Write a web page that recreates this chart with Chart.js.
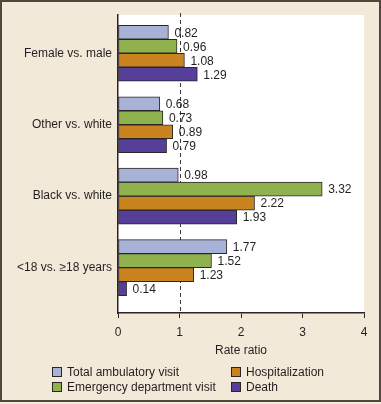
<!DOCTYPE html>
<html>
<head>
<meta charset="utf-8">
<script src="https://cdn.jsdelivr.net/npm/chart.js@4/dist/chart.umd.min.js"></script>
<style>
  html, body { margin: 0; padding: 0; background: #f3e9d9; }
  #wrap { width: 381px; height: 404px; position: relative; }
</style>
</head>
<body>
<div id="wrap"><canvas id="c" width="381" height="404"></canvas></div>
<script>
// ---- data ----
const categories = ['Female vs. male', 'Other vs. white', 'Black vs. white', '<18 vs. \u226518 years'];
const seriesNames = ['Total ambulatory visit', 'Emergency department visit', 'Hospitalization', 'Death'];
const totalAmbulatory = [0.82, 0.68, 0.98, 1.77];
const emergencyDept   = [0.96, 0.73, 3.32, 1.52];
const hospitalization = [1.08, 0.89, 2.22, 1.23];
const death           = [1.29, 0.79, 1.93, 0.14];
const xTicks = [0, 1, 2, 3, 4];
const referenceValue = 1;

const seriesColors = ['#a8b2d6', '#8fb24f', '#c9841f', '#553f99'];
const seriesValues = [totalAmbulatory, emergencyDept, hospitalization, death];
const FONT = "'Liberation Sans', Arial, Helvetica, sans-serif";
const TEXT = '#231f20';

const datasets = seriesNames.map((name, s) => ({
  label: name,
  data: seriesValues[s].map((v, i) => ({ x: v, y: i })),
  backgroundColor: seriesColors[s],
  borderColor: '#2a2628',
  borderWidth: 1,
  borderSkipped: false,
  barThickness: 14
}));

const framePlugin = {
  id: 'frame',
  beforeDraw(chart) {
    const { ctx, chartArea: a } = chart;
    ctx.save();
    ctx.fillStyle = '#f3e9d9';
    ctx.fillRect(0, 0, chart.width, chart.height);
    ctx.strokeStyle = '#50483c';
    ctx.lineWidth = 2;
    ctx.strokeRect(1, 1, chart.width - 2, chart.height - 4);
    ctx.fillStyle = '#ffffff';
    ctx.fillRect(a.left, a.top, a.right - a.left, a.bottom - a.top);
    ctx.restore();
  },
  beforeDatasetsDraw(chart) {
    const { ctx, chartArea: a } = chart;
    const x = Math.round(chart.scales.x.getPixelForValue(referenceValue)) + 0.5;
    ctx.save();
    ctx.strokeStyle = '#3a3638';
    ctx.lineWidth = 1;
    ctx.setLineDash([4, 3]);
    ctx.beginPath();
    ctx.moveTo(x, a.top - 2);
    ctx.lineTo(x, a.bottom);
    ctx.stroke();
    ctx.restore();
  },
  afterDatasetsDraw(chart) {
    const { ctx } = chart;
    ctx.save();
    ctx.font = '12px ' + FONT;
    ctx.fillStyle = TEXT;
    ctx.textBaseline = 'middle';
    ctx.textAlign = 'left';
    chart.data.datasets.forEach((ds, di) => {
      const meta = chart.getDatasetMeta(di);
      meta.data.forEach((el, i) => {
        ctx.fillText(ds.data[i].x.toFixed(2), el.x + 6, el.y + 1);
      });
    });
    // legend (two columns, column-major)
    const colX = [52, 231];
    const rowY = [372, 387];
    chart.data.datasets.forEach((ds, di) => {
      const cx = colX[Math.floor(di / 2)];
      const cy = rowY[di % 2];
      ctx.fillStyle = ds.backgroundColor;
      ctx.fillRect(cx, cy - 5, 10, 10);
      ctx.strokeStyle = '#2a2628';
      ctx.lineWidth = 1;
      ctx.strokeRect(cx + 0.5, cy - 4.5, 9, 9);
      ctx.fillStyle = TEXT;
      ctx.fillText(ds.label, cx + 15, cy + 1);
    });
    ctx.restore();
  }
};

new Chart(document.getElementById('c'), {
  type: 'bar',
  data: { datasets },
  options: {
    indexAxis: 'y',
    responsive: false,
    animation: false,
    devicePixelRatio: 1,
    layout: { padding: { left: 0, top: 15, right: 17, bottom: 0 } },
    plugins: { legend: { display: false }, tooltip: { enabled: false } },
    scales: {
      x: {
        type: 'linear',
        position: 'bottom',
        min: 0,
        max: 4,
        afterBuildTicks(scale) { scale.ticks = xTicks.map(v => ({ value: v })); },
        afterFit(scale) { scale.height = 91; },
        ticks: { font: { size: 12, family: FONT }, color: TEXT, padding: 7 },
        grid: { display: true, drawOnChartArea: false, drawTicks: true, tickLength: 5, color: '#2a2628', lineWidth: 1 },
        border: { display: true, color: '#2a2628', width: 1.5 },
        title: {
          display: true,
          text: 'Rate ratio',
          color: TEXT,
          font: { size: 12, family: FONT },
          padding: { top: 0, bottom: 46 }
        }
      },
      y: {
        type: 'linear',
        reverse: true,
        offset: false,
        min: -0.536,
        max: 3.636,
        afterBuildTicks(scale) { scale.ticks = categories.map((_, i) => ({ value: i })); },
        afterFit(scale) { scale.width = 118; },
        ticks: {
          font: { size: 12, family: FONT },
          color: TEXT,
          padding: 6,
          callback: (v) => categories[v]
        },
        grid: { display: true, offset: false, drawOnChartArea: false, drawTicks: false },
        border: { display: true, color: '#2a2628', width: 1.5 }
      }
    }
  },
  plugins: [framePlugin]
});
</script>
</body>
</html>
